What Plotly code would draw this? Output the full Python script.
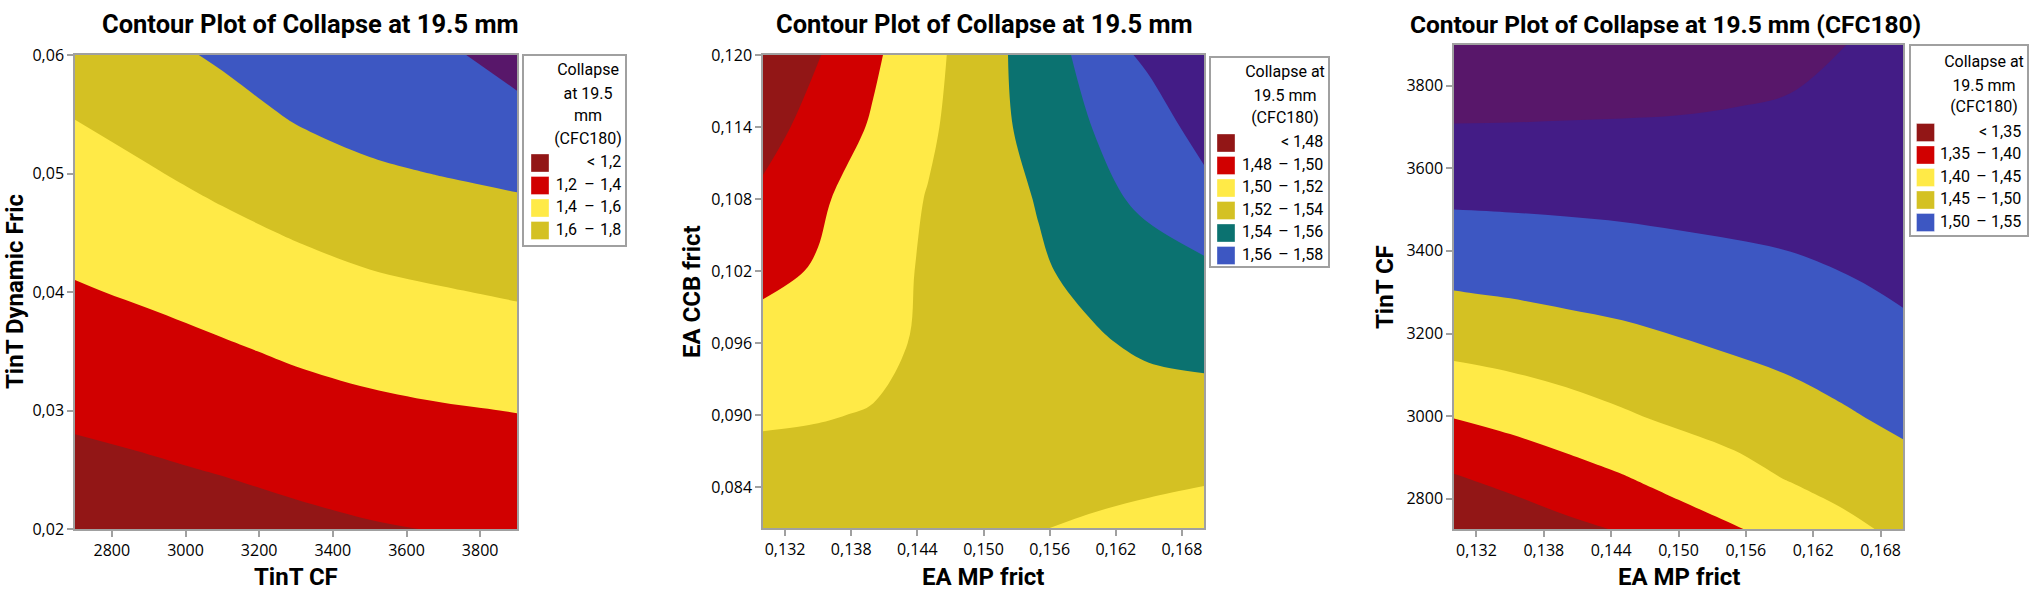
import plotly.graph_objects as go

W, H = 2031, 591

# ---------------- data ----------------
# Plot 1 : TinT CF (x) vs TinT Dynamic Fric (y)
p1_x = [2700, 2900, 3100, 3300, 3500, 3700, 3900]
p1_y = [0.020, 0.025, 0.030, 0.035, 0.040, 0.045, 0.050, 0.055, 0.060]
p1_z = [
    [1.077, 1.098, 1.123, 1.156, 1.186, 1.207, 1.225],
    [1.154, 1.179, 1.209, 1.244, 1.275, 1.297, 1.314],
    [1.231, 1.260, 1.294, 1.333, 1.364, 1.387, 1.404],
    [1.308, 1.341, 1.379, 1.423, 1.460, 1.488, 1.511],
    [1.385, 1.423, 1.469, 1.518, 1.560, 1.590, 1.617],
    [1.459, 1.505, 1.560, 1.614, 1.665, 1.698, 1.725],
    [1.533, 1.587, 1.649, 1.718, 1.774, 1.806, 1.835],
    [1.607, 1.669, 1.737, 1.817, 1.867, 1.898, 1.953],
    [1.681, 1.751, 1.823, 1.900, 1.956, 1.968, 2.071],
]
p1_levels = [1.2, 1.4, 1.6, 1.8, 2.0]
p1_xticks = [2800, 3000, 3200, 3400, 3600, 3800]
p1_xtext = ["2800", "3000", "3200", "3400", "3600", "3800"]
p1_yticks = [0.02, 0.03, 0.04, 0.05, 0.06]
p1_ytext = ["0,02", "0,03", "0,04", "0,05", "0,06"]
p1_leg_lo = ["", "1,2", "1,4", "1,6"]
p1_leg_hi = ["1,2", "1,4", "1,6", "1,8"]

# Plot 2 : EA MP frict (x) vs EA CCB frict (y)
p2_x = [0.130, 0.135, 0.140, 0.145, 0.150, 0.155, 0.160, 0.165, 0.170]
p2_y = [0.0805, 0.084, 0.090, 0.096, 0.102, 0.108, 0.114, 0.120]
p2_z = [
    [1.532, 1.533, 1.533, 1.532, 1.529, 1.5205, 1.517, 1.514, 1.513],
    [1.527, 1.528, 1.528, 1.528, 1.528, 1.527, 1.5245, 1.522, 1.5198],
    [1.518, 1.519, 1.521, 1.524, 1.527, 1.529, 1.531, 1.532, 1.533],
    [1.507, 1.511, 1.515, 1.523, 1.528, 1.534, 1.538, 1.543, 1.545],
    [1.4955, 1.5015, 1.514, 1.522, 1.530, 1.538, 1.545, 1.551, 1.557],
    [1.484, 1.497, 1.5095, 1.521, 1.532, 1.541, 1.554, 1.5645, 1.571],
    [1.472, 1.488, 1.502, 1.517, 1.532, 1.547, 1.5605, 1.567, 1.590],
    [1.462, 1.479, 1.497, 1.514, 1.532, 1.550, 1.567, 1.585, 1.602],
]
p2_levels = [1.48, 1.50, 1.52, 1.54, 1.56, 1.58]
p2_xticks = [0.132, 0.138, 0.144, 0.150, 0.156, 0.162, 0.168]
p2_xtext = ["0,132", "0,138", "0,144", "0,150", "0,156", "0,162", "0,168"]
p2_yticks = [0.084, 0.090, 0.096, 0.102, 0.108, 0.114, 0.120]
p2_ytext = ["0,084", "0,090", "0,096", "0,102", "0,108", "0,114", "0,120"]
p2_leg_lo = ["", "1,48", "1,50", "1,52", "1,54", "1,56"]
p2_leg_hi = ["1,48", "1,50", "1,52", "1,54", "1,56", "1,58"]

# Plot 3 : EA MP frict (x) vs TinT CF (y)
p3_x = [0.130, 0.135, 0.140, 0.145, 0.150, 0.155, 0.160, 0.165, 0.170]
p3_y = [2700, 2850, 3000, 3150, 3300, 3450, 3600, 3750, 3900]
p3_z = [
    [1.291, 1.311, 1.330, 1.345, 1.370, 1.389, 1.408, 1.433, 1.455],
    [1.346, 1.363, 1.380, 1.397, 1.416, 1.434, 1.453, 1.469, 1.483],
    [1.402, 1.415, 1.430, 1.445, 1.459, 1.470, 1.482, 1.496, 1.510],
    [1.456, 1.464, 1.473, 1.482, 1.492, 1.5007, 1.510, 1.521, 1.541],
    [1.499, 1.504, 1.510, 1.515, 1.521, 1.5275, 1.535, 1.546, 1.553],
    [1.538, 1.540, 1.543, 1.546, 1.550, 1.554, 1.558, 1.560, 1.563],
    [1.574, 1.575, 1.575, 1.576, 1.577, 1.577, 1.577, 1.574, 1.573],
    [1.610, 1.609, 1.6075, 1.606, 1.604, 1.6005, 1.596, 1.587, 1.584],
    [1.645, 1.643, 1.640, 1.636, 1.631, 1.624, 1.615, 1.600, 1.594],
]
p3_levels = [1.35, 1.40, 1.45, 1.50, 1.55, 1.60]
p3_xticks = p2_xticks
p3_xtext = p2_xtext
p3_yticks = [2800, 3000, 3200, 3400, 3600, 3800]
p3_ytext = ["2800", "3000", "3200", "3400", "3600", "3800"]
p3_leg_lo = ["", "1,35", "1,40", "1,45", "1,50"]
p3_leg_hi = ["1,35", "1,40", "1,45", "1,50", "1,55"]

titles = ["Contour Plot of Collapse at 19.5 mm",
          "Contour Plot of Collapse at 19.5 mm",
          "Contour Plot of Collapse at 19.5 mm (CFC180)"]
x_titles = ["TinT CF", "EA MP frict", "EA MP frict"]
y_titles = ["TinT Dynamic Fric", "EA CCB frict", "TinT CF"]
legend_titles = [["Collapse", "at 19.5", "mm", "(CFC180)"],
                 ["Collapse at", "19.5 mm", "(CFC180)"],
                 ["Collapse at", "19.5 mm", "(CFC180)"]]

# ---------------- styles ----------------
DKRED = "#921616"
RED = "#D10000"
YEL = "#FFEA47"
OLIVE = "#D4C123"
TEAL = "#0B7270"
BLUE = "#3D57C2"
INDIGO = "#431C86"
PURPLE = "#58176A"
p1_colors = [DKRED, RED, YEL, OLIVE, BLUE, PURPLE]
p2_colors = [DKRED, RED, YEL, OLIVE, TEAL, BLUE, INDIGO]
p3_colors = [DKRED, RED, YEL, OLIVE, BLUE, INDIGO, PURPLE]

TITLE_FONT = "Roboto, sans-serif"
TEXT_FONT = "Roboto, sans-serif"
TICK_FONT = "Open Sans, sans-serif"
FRAME = "#A0A0A0"
title_sizes = [25.5, 25.5, 24.5]

# layout boxes in px: (x0, x1, y0, y1)
plot_boxes = [(75, 517, 55, 529), (763, 1204, 55, 528), (1454, 1903, 45, 529)]
legend_boxes = [(524, 625, 56, 245), (1211, 1328, 58, 266), (1911, 2027, 46, 235)]
title_pos = [(310, 24), (984, 24), (1665, 24)]
xtitle_pos = [(296, 577), (983, 577), (1679, 577)]
ytitle_pos = [(15, 292), (692, 292), (1385, 287)]
leg_title_cx = [588, 1285, 1984]
leg_title_y = [[71, 95, 117, 140], [73, 97, 119], [63, 87, 108]]
leg_first_y = [163, 143, 132.5]
leg_pitch = 22.5
leg_swatch_x = [540, 1226, 1925.5]
leg_lo_right = [577, 1272, 1970]
leg_dash_cx = [589.5, 1283.5, 1981.5]
leg_hi_left = [600, 1293, 1991]

xs = [p1_x, p2_x, p3_x]
ys = [p1_y, p2_y, p3_y]
zs = [p1_z, p2_z, p3_z]
levels_all = [p1_levels, p2_levels, p3_levels]
colors_all = [p1_colors, p2_colors, p3_colors]
xranges = [[2700, 3900], [0.130, 0.170], [0.130, 0.170]]
yranges = [[0.02, 0.06], [0.0806, 0.120], [2727, 3898]]
xticks_all = [(p1_xticks, p1_xtext), (p2_xticks, p2_xtext), (p3_xticks, p3_xtext)]
yticks_all = [(p1_yticks, p1_ytext), (p2_yticks, p2_ytext), (p3_yticks, p3_ytext)]
leg_lo_all = [p1_leg_lo, p2_leg_lo, p3_leg_lo]
leg_hi_all = [p1_leg_hi, p2_leg_hi, p3_leg_hi]


def px_x(v):
    return v / W


def px_y(v):
    return 1 - v / H


fig = go.Figure()
layout = dict(
    template="none",
    width=W, height=H,
    margin=dict(l=0, r=0, t=0, b=0, pad=0, autoexpand=False),
    paper_bgcolor="white", plot_bgcolor="white", showlegend=False,
    annotations=[],
)

LEG_FONT = dict(family=TEXT_FONT, size=16, color="black")

for i in range(3):
    n = i + 1
    sfx = "" if n == 1 else str(n)
    levels = levels_all[i]
    cols = colors_all[i]
    nc = len(levels)
    size = levels[1] - levels[0]
    cscale = [[k / nc, c] for k, c in enumerate(cols)]
    fig.add_trace(go.Contour(
        x=xs[i], y=ys[i], z=zs[i],
        colorscale=cscale, showscale=False,
        contours=dict(coloring="fill", showlines=False,
                      start=levels[0], end=levels[-1] + size * 0.05, size=size),
        line=dict(width=0, smoothing=1.0),
        hoverinfo="skip",
        xaxis="x" + sfx, yaxis="y" + sfx,
    ))
    x0, x1, y0, y1 = plot_boxes[i]
    axis_common = dict(
        showline=True, mirror=True, linecolor=FRAME, linewidth=1.5,
        ticks="outside", ticklen=6, tickwidth=1.5, tickcolor=FRAME,
        showgrid=False, zeroline=False, automargin=False,
        tickfont=dict(family=TICK_FONT, size=16, color="black"),
        fixedrange=True,
    )
    layout["xaxis" + sfx] = dict(
        axis_common, domain=[px_x(x0), px_x(x1)], range=xranges[i],
        tickvals=xticks_all[i][0], ticktext=xticks_all[i][1],
        anchor="y" + sfx,
    )
    layout["yaxis" + sfx] = dict(
        axis_common, domain=[px_y(y1), px_y(y0)], range=yranges[i],
        tickvals=yticks_all[i][0], ticktext=yticks_all[i][1],
        anchor="x" + sfx,
    )

    # title and axis titles
    tx, ty = title_pos[i]
    layout["annotations"].append(dict(
        text="<b>" + titles[i] + "</b>", x=px_x(tx), y=px_y(ty),
        xref="paper", yref="paper", xanchor="center", yanchor="middle",
        showarrow=False, font=dict(family=TITLE_FONT, size=title_sizes[i], color="black")))
    ax_, ay_ = xtitle_pos[i]
    layout["annotations"].append(dict(
        text="<b>" + x_titles[i] + "</b>", x=px_x(ax_), y=px_y(ay_),
        xref="paper", yref="paper", xanchor="center", yanchor="middle",
        showarrow=False, font=dict(family=TEXT_FONT, size=24, color="black")))
    bx_, by_ = ytitle_pos[i]
    layout["annotations"].append(dict(
        text="<b>" + y_titles[i] + "</b>", x=px_x(bx_), y=px_y(by_),
        xref="paper", yref="paper", xanchor="center", yanchor="middle",
        textangle=-90,
        showarrow=False, font=dict(family=TEXT_FONT, size=24, color="black")))

    # legend box as its own small axes (clips text to the box)
    lx0, lx1, ly0, ly1 = legend_boxes[i]
    ln = i + 4
    lsfx = str(ln)
    layout["xaxis" + lsfx] = dict(
        domain=[px_x(lx0), px_x(lx1)], range=[lx0, lx1], anchor="y" + lsfx,
        showline=True, mirror=True, linecolor=FRAME, linewidth=1.5, automargin=False,
        showticklabels=False, ticks="", showgrid=False, zeroline=False, fixedrange=True)
    layout["yaxis" + lsfx] = dict(
        domain=[px_y(ly1), px_y(ly0)], range=[ly1, ly0], anchor="x" + lsfx,
        showline=True, mirror=True, linecolor=FRAME, linewidth=1.5, automargin=False,
        showticklabels=False, ticks="", showgrid=False, zeroline=False, fixedrange=True)

    lt = legend_titles[i]
    fig.add_trace(go.Scatter(
        x=[leg_title_cx[i]] * len(lt), y=leg_title_y[i][:len(lt)], text=lt,
        mode="text", textposition="middle center", cliponaxis=True,
        textfont=LEG_FONT, hoverinfo="skip", xaxis="x" + lsfx, yaxis="y" + lsfx))

    lo = leg_lo_all[i]
    hi = leg_hi_all[i]
    nent = len(hi)
    ey = [leg_first_y[i] + k * leg_pitch for k in range(nent)]
    fig.add_trace(go.Scatter(
        x=[leg_swatch_x[i]] * nent, y=ey, mode="markers",
        marker=dict(symbol="square", size=18, color=cols[:nent],
                    line=dict(width=1, color="rgba(255,255,255,0.35)")),
        cliponaxis=True, hoverinfo="skip", xaxis="x" + lsfx, yaxis="y" + lsfx))
    fig.add_trace(go.Scatter(
        x=[leg_lo_right[i]] * nent, y=ey, text=lo, mode="text",
        textposition="middle left", cliponaxis=True,
        textfont=LEG_FONT, hoverinfo="skip", xaxis="x" + lsfx, yaxis="y" + lsfx))
    fig.add_trace(go.Scatter(
        x=[leg_dash_cx[i] + (1.5 if k == 0 else 0) for k in range(nent)], y=ey,
        text=["<" if k == 0 else "–" for k in range(nent)], mode="text",
        textposition="middle center", cliponaxis=True,
        textfont=LEG_FONT, hoverinfo="skip", xaxis="x" + lsfx, yaxis="y" + lsfx))
    fig.add_trace(go.Scatter(
        x=[leg_hi_left[i]] * nent, y=ey, text=hi, mode="text",
        textposition="middle right", cliponaxis=True,
        textfont=LEG_FONT, hoverinfo="skip", xaxis="x" + lsfx, yaxis="y" + lsfx))

fig.update_layout(**layout)
fig.write_html("out.html", config={"displayModeBar": False},
               post_script="document.body.style.margin='0px';")
